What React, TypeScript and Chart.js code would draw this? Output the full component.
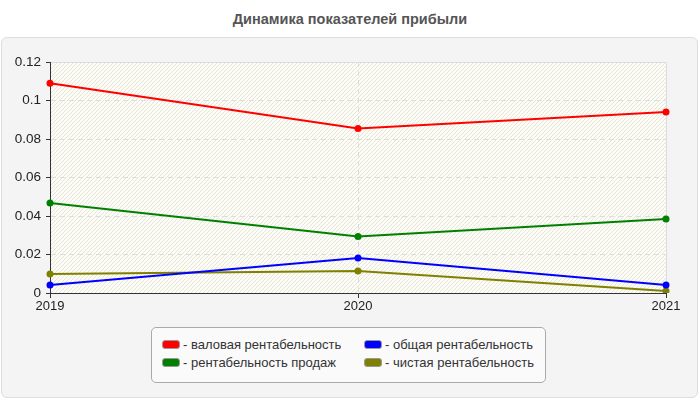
import React, { useEffect, useRef } from "react";
import { Chart, registerables } from "chart.js";

Chart.register(...registerables);

const title = "Динамика показателей прибыли";
const years = ["2019", "2020", "2021"];
const grossMargin = [0.109, 0.0855, 0.094];
const salesMargin = [0.0468, 0.0294, 0.0384];
const totalMargin = [0.0042, 0.0182, 0.0042];
const netMargin = [0.0099, 0.0114, 0.001];
const seriesLabels = [
  "- валовая рентабельность",
  "- общая рентабельность",
  "- рентабельность продаж",
  "- чистая рентабельность",
];
const seriesColors = ["#ff0000", "#0000ff", "#008000", "#808000"];
const yTicks = [0, 0.02, 0.04, 0.06, 0.08, 0.1, 0.12];

const bgPlugin = {
  id: "plotBg",
  beforeDraw(chart: any) {
    const { ctx, chartArea } = chart;
    const { left, top, right, bottom } = chartArea;
    ctx.save();
    ctx.fillStyle = "#fdfdf6";
    ctx.fillRect(left, top, right - left, bottom - top);
    ctx.beginPath();
    ctx.rect(left, top, right - left, bottom - top);
    ctx.clip();
    ctx.strokeStyle = "rgba(190,190,190,0.4)";
    ctx.lineWidth = 1;
    const h = bottom - top;
    for (let x = left - h; x < right + h; x += 4) {
      ctx.beginPath();
      ctx.moveTo(x, bottom);
      ctx.lineTo(x + h, top);
      ctx.stroke();
    }
    ctx.restore();
    ctx.save();
    ctx.strokeStyle = "#dddddd";
    ctx.lineWidth = 1;
    ctx.beginPath();
    ctx.moveTo(left, top + 0.5);
    ctx.lineTo(right + 0.5, top + 0.5);
    ctx.lineTo(right + 0.5, bottom);
    ctx.stroke();
    ctx.restore();
  },
};

export default function App() {
  const ref = useRef<HTMLCanvasElement>(null);
  useEffect(() => {
    if (!ref.current) return;
    const data = [grossMargin, totalMargin, salesMargin, netMargin];
    const chart = new Chart(ref.current, {
      type: "line",
      data: {
        labels: years,
        datasets: data.map((d, i) => ({
          label: seriesLabels[i],
          data: d,
          borderColor: seriesColors[i],
          backgroundColor: seriesColors[i],
          borderWidth: 2,
          pointRadius: 3.5,
          pointBorderWidth: 0,
          tension: 0,
        })),
      },
      options: {
        animation: false,
        responsive: false,
        layout: { padding: { left: 0, top: 62, right: 34, bottom: 87 } },
        plugins: { legend: { display: false }, tooltip: { enabled: false } },
        scales: {
          x: {
            offset: false,
            grid: {
              color: (c: any) => (c.index === 1 ? "#dddddd" : "rgba(0,0,0,0)"),
              tickColor: "#333333",
              tickLength: 5,
            },
            border: { color: "#333333", dash: [5, 4] },
            ticks: {
              color: "#222222",
              font: { family: "Liberation Sans, Arial, sans-serif", size: 13 },
              padding: 1,
              maxRotation: 0,
            },
            afterFit(s: any) {
              s.height = 20;
            },
          },
          y: {
            min: 0,
            max: 0.12,
            afterBuildTicks(s: any) {
              s.ticks = yTicks.map((v) => ({ value: v }));
            },
            grid: {
              color: (c: any) =>
                c.tick && c.tick.value > 0 && c.tick.value < 0.12 ? "#dddddd" : "rgba(0,0,0,0)",
              tickColor: "#333333",
              tickLength: 4,
            },
            border: { color: "#333333", dash: [5, 4] },
            ticks: {
              color: "#222222",
              font: { family: "Liberation Sans, Arial, sans-serif", size: 13.5 },
              padding: 5,
              callback: (v: any) => String(Number(v)),
            },
            afterFit(s: any) {
              s.width = 50;
            },
          },
        },
      },
      plugins: [bgPlugin],
    });
    return () => chart.destroy();
  }, []);

  const font = "'Liberation Sans', Arial, sans-serif";
  const legendItem = (i: number, left: number, top: number) => (
    <div
      key={i}
      style={{
        position: "absolute",
        left,
        top,
        display: "flex",
        alignItems: "center",
        fontSize: 13,
        color: "#333",
        whiteSpace: "nowrap",
        lineHeight: "15px",
      }}
    >
      <span
        style={{
          display: "inline-block",
          width: 16,
          height: 7,
          background: seriesColors[i],
          border: "1px solid #999",
          borderRadius: 3,
          marginRight: 3,
        }}
      />
      {seriesLabels[i]}
    </div>
  );

  return (
    <div
      style={{
        position: "fixed",
        left: 0,
        top: 0,
        width: 700,
        height: 400,
        background: "#ffffff",
        fontFamily: font,
        overflow: "hidden",
      }}
    >
      <div
        style={{
          position: "absolute",
          left: 0,
          top: 11,
          width: 700,
          textAlign: "center",
          fontWeight: "bold",
          fontSize: 14.5,
          color: "#555",
        }}
      >
        {title}
      </div>
      <div
        style={{
          position: "absolute",
          left: 1,
          top: 37,
          width: 695,
          height: 359,
          background: "#f4f4f4",
          border: "1px solid #dddddd",
          borderRadius: 6,
        }}
      />
      <canvas
        ref={ref}
        width={700}
        height={400}
        style={{ position: "absolute", left: 0, top: 0, width: 700, height: 400 }}
      />
      <div
        style={{
          position: "absolute",
          left: 151,
          top: 327,
          width: 393,
          height: 54,
          background: "#fafafa",
          border: "1px solid #aaaaaa",
          borderRadius: 5,
        }}
      >
        {legendItem(0, 10, 9)}
        {legendItem(1, 212, 9)}
        {legendItem(2, 10, 27)}
        {legendItem(3, 212, 27)}
      </div>
    </div>
  );
}
